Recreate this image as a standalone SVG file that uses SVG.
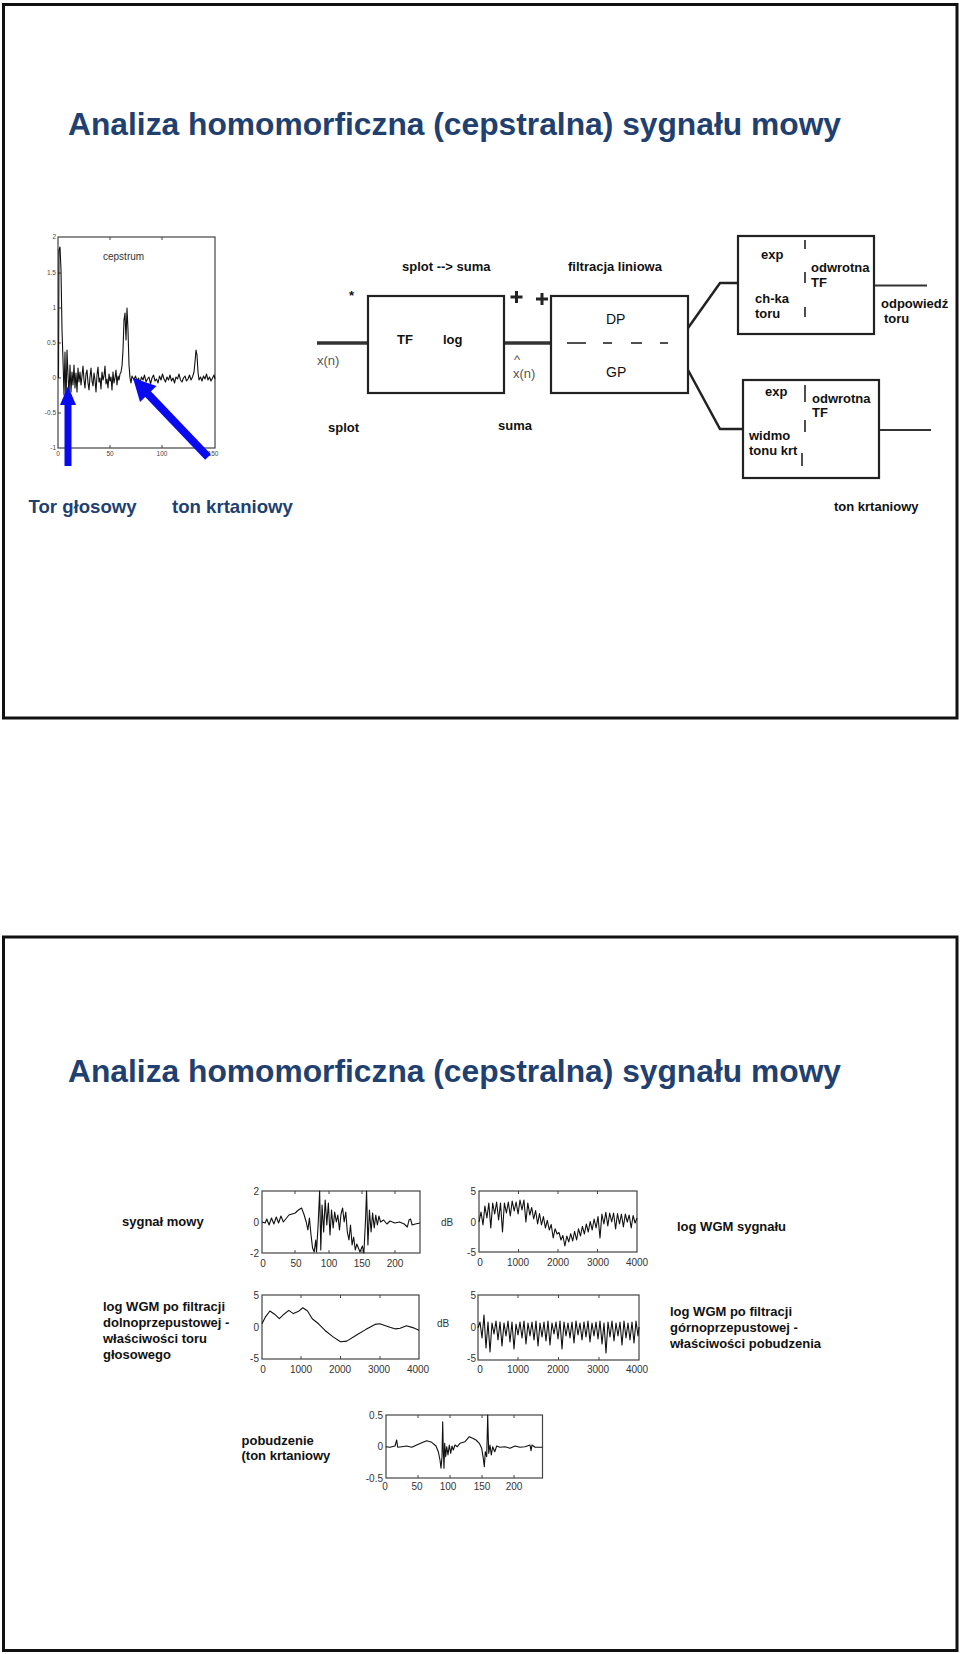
<svg xmlns="http://www.w3.org/2000/svg" width="960" height="1654" viewBox="0 0 960 1654">
<style>
.frame{fill:none;stroke:#111;stroke-width:3}
.title{font-family:"Liberation Sans",Arial,sans-serif;font-weight:bold;font-size:31.8px;fill:#213f6f}
.blue{font-family:"Liberation Sans",Arial,sans-serif;font-weight:bold;font-size:18.6px;fill:#213f6f}
.bd{font-family:"Liberation Sans",Arial,sans-serif;font-weight:bold;font-size:13px;fill:#111}
.bdr{font-family:"Liberation Sans",Arial,sans-serif;font-size:14px;fill:#111}
.gray{font-family:"Liberation Sans",Arial,sans-serif;font-size:13px;fill:#555}
.box{fill:#fff;stroke:#222;stroke-width:2.2}
.wire{fill:none;stroke:#222;stroke-width:2.5}
.thick{fill:none;stroke:#333;stroke-width:3.5}
.bar{stroke:#222;stroke-width:1.6}
.pf{fill:none;stroke:#444;stroke-width:1.2}
.tick{stroke:#444;stroke-width:1}
.ax{font-family:"Liberation Sans",Arial,sans-serif;font-size:10px;fill:#333}
.axs{font-family:"Liberation Sans",Arial,sans-serif;font-size:6.5px;fill:#444}
.sig{fill:none;stroke:#111;stroke-width:1.1;stroke-linejoin:round}
.lab{font-family:"Liberation Sans",Arial,sans-serif;font-weight:bold;font-size:13px;fill:#111}
.arrow{fill:#0a0af0}
.plus{stroke:#222;stroke-width:3}
</style>

<!-- slide frames -->
<rect class="frame" x="3.5" y="4.5" width="953.5" height="713.5"/>
<rect class="frame" x="3.5" y="937" width="953.5" height="713.5"/>

<g id="title1"><text class="title" x="68" y="135" textLength="773" lengthAdjust="spacingAndGlyphs">Analiza homomorficzna (cepstralna) sygnału mowy</text></g>

<!-- cepstrum plot -->
<g id="cepstrum-plot">
<rect class="pf" x="58" y="237" width="157" height="211" stroke="#777"/>
<g class="tick">
<line x1="58" y1="273" x2="61" y2="273"/><line x1="58" y1="308" x2="61" y2="308"/><line x1="58" y1="343" x2="61" y2="343"/><line x1="58" y1="378" x2="61" y2="378"/><line x1="58" y1="413" x2="61" y2="413"/>
<line x1="110" y1="448" x2="110" y2="445"/><line x1="162" y1="448" x2="162" y2="445"/><line x1="110" y1="237" x2="110" y2="240"/><line x1="162" y1="237" x2="162" y2="240"/>
</g>
<g class="axs" text-anchor="end">
<text x="56" y="239">2</text><text x="56" y="275">1.5</text><text x="56" y="310">1</text><text x="56" y="345">0.5</text><text x="56" y="380">0</text><text x="56" y="415">-0.5</text><text x="56" y="450">-1</text>
</g>
<g class="axs" text-anchor="middle">
<text x="58" y="456">0</text><text x="110" y="456">50</text><text x="162" y="456">100</text><text x="213" y="456">150</text>
</g>
<text x="103" y="260" font-family="Liberation Sans,Arial,sans-serif" font-size="10px" fill="#333">cepstrum</text>
<polyline class="sig" points="58.5,378 59,250 60,247 61,270 62,330 63,360 64,395 65,352 66,405 67,350 68,375 69,395 70,365 71,392 72,372 73,385 74,365 75,388 76,373 77,392 78,368 79,382 80,372 81,385 82,376 83,366 84,380 85,388 86,374 87,370 88,383 89,390 90,377 91,368 92,381 93,386 94,373 95,380 96,392 97,375 98,367 99,382 100,378 101,389 102,372 103,380 104,376 105,366 106,384 107,379 108,388 109,374 110,381 111,377 112,390 113,372 114,383 115,378 116,370 117,385 118,376 119,380 120,374 121,372 122,366 123,350 124,320 125,313 126,340 127,308 128,330 129,365 130,378 131,383 132,376 134,380 135.5,376 137,381 138.5,378 140,383 141.5,377 143,380 144.5,375 146,382 147.5,379 149,377 150.5,384 152,378 153.5,375 155,381 156.5,379 158,383 159.5,376 161,380 162.5,374 164,379 165.5,382 167,377 168.5,380 170,375 171.5,381 173,378 174.5,383 176,377 177.5,379 179,374 180.5,380 182,382 183.5,378 185,376 186.5,381 188,379 189.5,375 191,380 192.5,377 194,372 195,362 196,350 197,355 198,372 199,380 200.5,377 202,381 203.5,376 205,379 206.5,374 208,380 209.5,377 211,381 212.5,378 214,375 215,379"/>
</g>

<g id="arrow-tor">
<rect class="arrow" x="64.5" y="402" width="7" height="64"/>
<polygon class="arrow" points="60,405 68,386 76,405"/>
</g>
<g id="arrow-ton">
<line x1="146" y1="392" x2="208" y2="457" stroke="#0a0af0" stroke-width="8"/>
<polygon class="arrow" points="133,378 140,402 156.5,386"/>
</g>
<g id="label-tor"><text class="blue" x="28.5" y="513">Tor głosowy</text></g>
<g id="label-ton"><text class="blue" x="172" y="513">ton krtaniowy</text></g>

<!-- block diagram -->
<g id="connectors">
<line class="thick" x1="317" y1="343" x2="368" y2="343"/>
<line class="thick" x1="504" y1="343" x2="551" y2="343"/>
<polyline class="wire" points="688,328 720,283 738,283"/>
<polyline class="wire" points="688,370 720,429 743,429"/>
<line x1="874" y1="285.5" x2="927" y2="285.5" stroke="#333" stroke-width="1.8"/>
<line x1="879" y1="430" x2="931" y2="430" stroke="#333" stroke-width="1.8"/>
</g>

<g id="lbl-splot-suma"><text class="bd" x="402" y="271">splot  --&gt; suma</text></g>
<g id="lbl-filtracja"><text class="bd" x="568" y="271">filtracja liniowa</text></g>
<g id="lbl-star"><text class="bd" x="349" y="300" font-size="14px">*</text></g>
<g id="lbl-plus">
<line class="plus" x1="510.5" y1="297" x2="522.5" y2="297"/><line class="plus" x1="516.5" y1="291" x2="516.5" y2="303"/>
<line class="plus" x1="536" y1="299" x2="548" y2="299"/><line class="plus" x1="542" y1="293" x2="542" y2="305"/>
</g>
<g id="lbl-xn"><text class="gray" x="317" y="365">x(n)</text></g>
<g id="lbl-xhat"><text class="gray" x="513" y="378">x(n)</text><text class="gray" x="514" y="364" font-size="8px">^</text></g>
<g id="lbl-splot"><text class="bd" x="328" y="432">splot</text></g>
<g id="lbl-suma"><text class="bd" x="498" y="430">suma</text></g>

<g id="node-tf-log">
<rect class="box" x="368" y="296" width="136" height="97"/>
<text class="bd" x="397" y="344" font-size="14px">TF</text>
<text class="bd" x="443" y="344" font-size="14px">log</text>
</g>

<g id="node-filter">
<rect class="box" x="551" y="296" width="137" height="97"/>
<text class="bdr" x="606" y="324">DP</text>
<text class="bdr" x="606" y="377">GP</text>
<g stroke="#222" stroke-width="1.6">
<line x1="567" y1="343" x2="586" y2="343"/><line x1="603" y1="343" x2="612" y2="343"/><line x1="631" y1="343" x2="642" y2="343"/><line x1="660" y1="343" x2="668" y2="343"/>
</g>
</g>

<g id="node-exp-toru">
<rect class="box" x="738" y="236" width="136" height="98"/>
<text class="bd" x="761" y="259">exp</text>
<text class="bd" x="811" y="272">odwrotna</text>
<text class="bd" x="811" y="287">TF</text>
<text class="bd" x="755" y="303">ch-ka</text>
<text class="bd" x="755" y="318">toru</text>
<line class="bar" x1="805" y1="240" x2="805" y2="249"/>
<line class="bar" x1="805" y1="272" x2="805" y2="283"/>
<line class="bar" x1="805" y1="307" x2="805" y2="317"/>
</g>
<g id="lbl-odpowiedz"><text class="bd" x="881" y="308">odpowiedź</text><text class="bd" x="884" y="323">toru</text></g>

<g id="node-exp-ton">
<rect class="box" x="743" y="380" width="136" height="98"/>
<text class="bd" x="765" y="396">exp</text>
<text class="bd" x="812" y="403">odwrotna</text>
<text class="bd" x="812" y="417">TF</text>
<text class="bd" x="749" y="440">widmo</text>
<text class="bd" x="749" y="455">tonu krt</text>
<line class="bar" x1="805" y1="385" x2="805" y2="402"/>
<line class="bar" x1="805" y1="420" x2="805" y2="432"/>
<line class="bar" x1="802" y1="453" x2="802" y2="466"/>
</g>
<g id="lbl-ton-krt"><text class="bd" x="834" y="511">ton krtaniowy</text></g>

<!-- slide 2 -->
<g id="title2"><text class="title" x="68" y="1082" textLength="773" lengthAdjust="spacingAndGlyphs">Analiza homomorficzna (cepstralna) sygnału mowy</text></g>

<g id="lbl-sygnal"><text class="lab" x="122" y="1226">sygnał mowy</text></g>
<g id="plot-sygnal">
<rect class="pf" x="262" y="1191" width="158" height="62"/>
<g class="tick"><line x1="295" y1="1191" x2="295" y2="1194"/><line x1="329" y1="1191" x2="329" y2="1194"/><line x1="362" y1="1191" x2="362" y2="1194"/><line x1="395" y1="1191" x2="395" y2="1194"/><line x1="295" y1="1253" x2="295" y2="1250"/><line x1="329" y1="1253" x2="329" y2="1250"/><line x1="362" y1="1253" x2="362" y2="1250"/><line x1="395" y1="1253" x2="395" y2="1250"/></g>
<g class="ax" text-anchor="end"><text x="259" y="1195">2</text><text x="259" y="1226">0</text><text x="259" y="1257">-2</text></g>
<g class="ax" text-anchor="middle"><text x="263" y="1267">0</text><text x="296" y="1267">50</text><text x="329" y="1267">100</text><text x="362" y="1267">150</text><text x="395" y="1267">200</text></g>
<polyline class="sig" vector-effect="non-scaling-stroke" transform="matrix(0.9576,0,0,1,19.73,0)" points="253,1222 256.3,1223 258,1219 260.4,1225 262.9,1218 265.4,1224 267.9,1217 270.3,1223 272.8,1216 275.3,1222 277.8,1219 281.1,1215 284.4,1214 287.7,1213 291,1210 294.3,1208 296.7,1214 299.2,1222 300.9,1230 302.5,1218 304.2,1235 305.8,1248 307.5,1252 309.1,1240 309.9,1252 311.6,1225 313.2,1191 314.4,1250 315.7,1205 317.4,1232 319,1200 320.7,1225 322.3,1203 324,1235 325.6,1210 327.3,1228 328.9,1212 330.6,1222 332.2,1215 333.9,1230 335.5,1214 337.2,1208 338.8,1222 340.5,1212 342.1,1232 343.8,1240 345.4,1225 347.1,1245 348.7,1237 350.4,1250 352,1244 355.3,1252 357.8,1246 359.4,1253 361.1,1220 362.2,1191 363.6,1245 365.2,1210 366.9,1232 368.5,1213 370.2,1228 371.8,1215 373.5,1225 375.1,1216 376.8,1222 380,1220 383.4,1224 386.7,1221 391.6,1223 396.6,1222 401.5,1224 404.8,1227 406.5,1220 408.1,1219 409.8,1225 413.1,1224 418,1223"/>
</g>

<g id="lbl-db1"><text class="ax" x="441" y="1226">dB</text></g>
<g id="plot-wgm">
<rect class="pf" x="479" y="1191" width="158" height="61"/>
<g class="tick"><line x1="518.5" y1="1191" x2="518.5" y2="1194"/><line x1="558" y1="1191" x2="558" y2="1194"/><line x1="597.5" y1="1191" x2="597.5" y2="1194"/><line x1="518.5" y1="1252" x2="518.5" y2="1249"/><line x1="558" y1="1252" x2="558" y2="1249"/><line x1="597.5" y1="1252" x2="597.5" y2="1249"/></g>
<g class="ax" text-anchor="end"><text x="476" y="1195">5</text><text x="476" y="1226">0</text><text x="476" y="1256">-5</text></g>
<g class="ax" text-anchor="middle"><text x="480" y="1266">0</text><text x="518" y="1266">1000</text><text x="558" y="1266">2000</text><text x="598" y="1266">3000</text><text x="637" y="1266">4000</text></g>
<polyline class="sig" points="479,1222 481,1212 483,1225 484.9,1206 486.9,1218 488.8,1203 490.8,1228 492.7,1203 494.7,1214 496.6,1202 498.6,1220 500.5,1203 502.5,1232 504.4,1203 506.4,1213 508.3,1202 510.3,1216 512.2,1201 514.2,1211 516.1,1202 518.1,1214 520,1200 522,1210 523.9,1200 525.9,1222 527.8,1203 529.8,1215 531.7,1207.5 533.7,1219 535.6,1210.5 537.6,1224 539.5,1213.6 541.5,1225 543.4,1216.6 545.4,1228 547.3,1220.3 549.3,1230 551.2,1224.5 553.2,1238 555.1,1228.8 557.1,1234 559,1232.5 561,1240 562.9,1235.5 564.9,1246 566.8,1236 568.8,1242 570.7,1233.7 572.7,1241 574.6,1231.3 576.6,1240 578.5,1228.8 580.5,1236 582.4,1226.4 584.4,1234 586.3,1224 588.3,1232 590.2,1221.5 592.2,1230 594.1,1219 596.1,1228 598,1216.6 600,1238 601.9,1214 603.9,1224 605.8,1212.4 607.8,1226 609.7,1213 611.7,1222 613.6,1213 615.6,1229 617.5,1213.6 619.5,1224 621.4,1214 623.4,1227 625.3,1214 627.3,1222 629.2,1215 631.2,1228 633.1,1215.5 635.1,1223 637,1218"/>
</g>
<g id="lbl-wgm"><text class="lab" x="677" y="1231">log WGM sygnału</text></g>

<g id="lbl-dolno">
<text class="lab" x="103" y="1311">log WGM po filtracji</text>
<text class="lab" x="103" y="1327">dolnoprzepustowej -</text>
<text class="lab" x="103" y="1343">właściwości toru</text>
<text class="lab" x="103" y="1359">głosowego</text>
</g>
<g id="plot-dolno">
<rect class="pf" x="262" y="1295" width="157" height="64"/>
<g class="tick"><line x1="301" y1="1295" x2="301" y2="1298"/><line x1="340.5" y1="1295" x2="340.5" y2="1298"/><line x1="380" y1="1295" x2="380" y2="1298"/><line x1="301" y1="1359" x2="301" y2="1356"/><line x1="340.5" y1="1359" x2="340.5" y2="1356"/><line x1="380" y1="1359" x2="380" y2="1356"/></g>
<g class="ax" text-anchor="end"><text x="259" y="1299">5</text><text x="259" y="1331">0</text><text x="259" y="1362">-5</text></g>
<g class="ax" text-anchor="middle"><text x="263" y="1373">0</text><text x="301" y="1373">1000</text><text x="340" y="1373">2000</text><text x="379" y="1373">3000</text><text x="418" y="1373">4000</text></g>
<polyline class="sig" stroke-width="2" vector-effect="non-scaling-stroke" transform="matrix(0.9515,0,0,1,21.27,0)" points="253,1323.8 256.3,1317.4 261.3,1311 266.2,1314.2 271.2,1318.7 276.1,1314.2 281.1,1310.4 286,1313.6 291,1311.6 295.9,1307.8 300.9,1311 305.8,1318.7 312.4,1323.8 319,1330.2 327.3,1336.6 335.5,1341.7 342.1,1341.1 352,1335.3 361.9,1329.6 371.8,1324.4 376.8,1323.8 385,1326.4 393.3,1328.9 398.2,1328.3 404.8,1325.7 411.4,1327.6 418,1330.2"/>
</g>
<g id="lbl-db2"><text class="ax" x="437" y="1327">dB</text></g>

<g id="plot-gorno">
<rect class="pf" x="478" y="1295" width="161" height="65"/>
<g class="tick"><line x1="518" y1="1295" x2="518" y2="1298"/><line x1="558.5" y1="1295" x2="558.5" y2="1298"/><line x1="599" y1="1295" x2="599" y2="1298"/><line x1="518" y1="1360" x2="518" y2="1357"/><line x1="558.5" y1="1360" x2="558.5" y2="1357"/><line x1="599" y1="1360" x2="599" y2="1357"/></g>
<g class="ax" text-anchor="end"><text x="476" y="1299">5</text><text x="476" y="1331">0</text><text x="476" y="1362">-5</text></g>
<g class="ax" text-anchor="middle"><text x="480" y="1373">0</text><text x="518" y="1373">1000</text><text x="558" y="1373">2000</text><text x="598" y="1373">3000</text><text x="637" y="1373">4000</text></g>
<polyline class="sig" points="478,1328 480,1322 482,1338 484,1315 486,1348 488,1322 490,1352 492,1323 494,1334 496,1321 498,1340 500,1322 502,1346 504,1323 506,1336 508,1321 510,1342 512,1322 514,1349 516,1324 518,1335 520,1322 522,1338 524,1321 526,1344 528,1323 530,1336 532,1322 534,1340 536,1321 538,1346 540,1323 542,1337 544,1322 546,1341 548,1321 550,1345 552,1323 554,1334 556,1322 558,1339 560,1321 562,1349 564,1322 566,1336 568,1323 570,1338 572,1322 574,1343 576,1321 578,1335 580,1323 582,1340 584,1322 586,1337 588,1321 590,1342 592,1323 594,1336 596,1322 598,1339 600,1321 602,1344 604,1323 606,1353 608,1322 610,1337 612,1321 614,1341 616,1323 618,1336 620,1322 622,1345 624,1321 626,1338 628,1323 630,1340 632,1322 634,1343 636,1321 638,1336 639,1327"/>
</g>
<g id="lbl-gorno">
<text class="lab" x="670" y="1316">log WGM po filtracji</text>
<text class="lab" x="670" y="1332">górnoprzepustowej -</text>
<text class="lab" x="670" y="1348">właściwości pobudzenia</text>
</g>

<g id="lbl-pobudzenie">
<text class="lab" x="241.5" y="1445">pobudzenie</text>
<text class="lab" x="241.5" y="1460">(ton krtaniowy</text>
</g>
<g id="plot-pobudzenie">
<rect class="pf" x="386" y="1415" width="156.5" height="63"/>
<g class="tick"><line x1="418" y1="1415" x2="418" y2="1418"/><line x1="450" y1="1415" x2="450" y2="1418"/><line x1="482" y1="1415" x2="482" y2="1418"/><line x1="514" y1="1415" x2="514" y2="1418"/><line x1="418" y1="1478" x2="418" y2="1475"/><line x1="450" y1="1478" x2="450" y2="1475"/><line x1="482" y1="1478" x2="482" y2="1475"/><line x1="514" y1="1478" x2="514" y2="1475"/></g>
<g class="ax" text-anchor="end"><text x="383" y="1419">0.5</text><text x="383" y="1450">0</text><text x="383" y="1482">-0.5</text></g>
<g class="ax" text-anchor="middle"><text x="385" y="1490">0</text><text x="417" y="1490">50</text><text x="448" y="1490">100</text><text x="482" y="1490">150</text><text x="514" y="1490">200</text></g>
<polyline class="sig" points="385.7,1446.7 390,1447.3 395,1446 396.7,1440 397.7,1447.3 401.7,1446.7 406.7,1446 411.7,1447.3 416.7,1445 421.7,1442.7 426.7,1440.7 431.7,1442.3 436,1446 438.3,1451.7 440,1460 441,1468.3 442,1456.7 442.7,1421.7 443.3,1450 444,1468.3 444.7,1443.3 445.7,1456.7 446.7,1446.7 448,1455 449.3,1445 450.7,1453.3 452,1446 453.3,1450 455,1445 457.3,1446.7 460,1443.3 465,1441.7 469.3,1436.7 472.7,1438.3 476,1440 479.3,1443.3 481.7,1448.3 483.3,1458.3 484.3,1466.7 485.3,1451.7 486.7,1456.7 487.7,1415 488.7,1453.3 490,1445 491.3,1455 492.7,1446.7 494.7,1451.7 496.7,1446 500,1447.3 505,1446.7 510,1448.3 515,1446 520,1447.3 525,1446.7 530,1445 531,1450.7 532,1445 535,1447.3 542.5,1447.3"/>
</g>
</svg>
